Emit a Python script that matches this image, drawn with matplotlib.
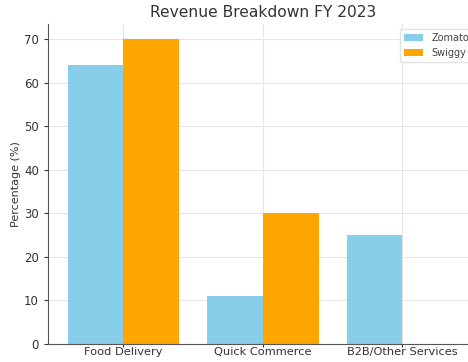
import numpy as np
import matplotlib
matplotlib.use("Agg")
import matplotlib.pyplot as plt

categories = ["Food Delivery", "Quick Commerce", "B2B/Other Services"]
zomato = [64, 11, 25]
swiggy = [70, 30, 0]

fig = plt.figure(figsize=(4.68, 3.62), dpi=100)
# the reference is cropped on the right, so the axes run past the figure edge
ax = fig.add_axes([0.1026, 0.0497, 0.918, 0.884])

x = np.arange(len(categories))
w = 0.4
ax.bar(x - w / 2, zomato, w, color="skyblue", label="Zomato", zorder=2)
ax.bar(x + w / 2, swiggy, w, color="orange", label="Swiggy", zorder=2)

ax.set_xticks(x)
ax.set_xticklabels(categories, fontsize=8.2, color="#333333")
ax.tick_params(axis="y", labelsize=8.5, colors="#333333", length=3)
ax.tick_params(axis="x", length=2, colors="#333333", pad=0.5)
ax.set_ylabel("Percentage (%)", fontsize=8, color="#333333", labelpad=2)
ax.set_title("Revenue Breakdown FY 2023", fontsize=11.2, color="#333333", pad=5)

ax.grid(True, color="#e6e6e6", linewidth=0.8, zorder=0)
ax.set_axisbelow(True)
for s in ["top", "right"]:
    ax.spines[s].set_visible(False)
for s in ["left", "bottom"]:
    ax.spines[s].set_color("#555555")

leg = ax.legend(loc="upper right", fontsize=7, frameon=True, edgecolor="#dddddd",
                fancybox=False)
for t in leg.get_texts():
    t.set_color("#444444")

fig.savefig("out.png", dpi=100)
